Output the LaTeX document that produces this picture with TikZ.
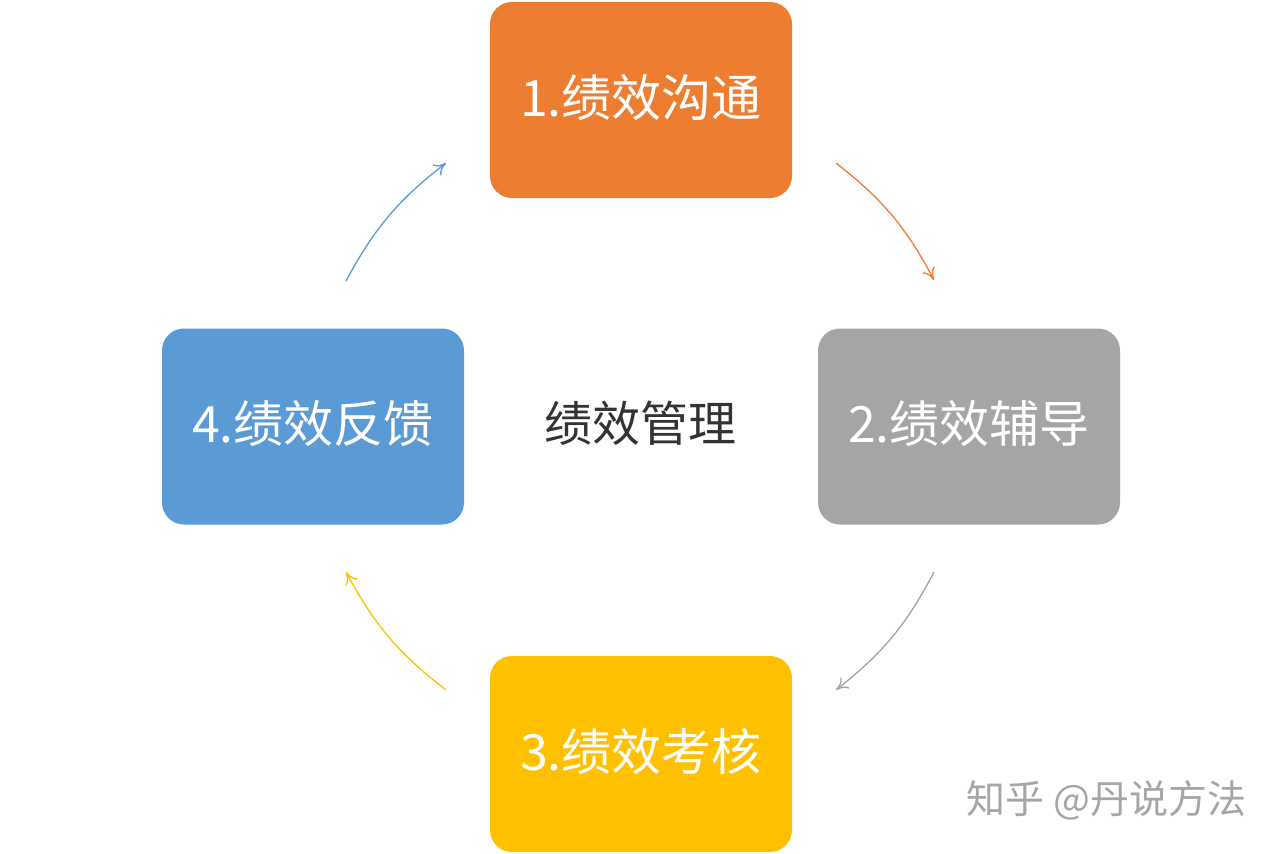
\documentclass[tikz,border=0pt]{standalone}
\usepackage{fontspec}
\newfontfamily\cjk{Noto Sans CJK SC}
\usetikzlibrary{arrows.meta}
\definecolor{c1}{HTML}{ED7D31}
\definecolor{c2}{HTML}{A5A5A5}
\definecolor{c3}{HTML}{FFC000}
\definecolor{c4}{HTML}{5B9BD5}
\tikzset{
  box/.style={rounded corners=22pt,minimum width=302pt,minimum height=196pt,inner sep=0pt,text=white,font=\cjk\fontsize{50}{54}\selectfont},
  arr/.style={line width=1.3pt,-{To[length=12pt,width=14pt]}},
}
\newcommand{\lift}[1]{\raisebox{-16pt}[0pt][0pt]{#1}}
\begin{document}
\begin{tikzpicture}[x=1pt,y=-1pt]
\useasboundingbox[fill=white] (0,0) rectangle (1280,854);
\node[box,fill=c1] (b1) at (641,100) {\lift{1.绩效沟通}};
\node[box,fill=c2] (b2) at (969,426.5) {\lift{2.绩效辅导}};
\node[box,fill=c3] (b3) at (641,754) {\lift{3.绩效考核}};
\node[box,fill=c4] (b4) at (313,426.5) {\lift{4.绩效反馈}};
\node[font=\cjk\fontsize{48}{52}\selectfont,text=black!80] (c) at (640,423) {绩效管理};
\coordinate (a1s) at (836,163); \coordinate (a1e) at (934,280);
\coordinate (a2s) at (934,572); \coordinate (a2e) at (836,690);
\coordinate (a3s) at (446,690); \coordinate (a3e) at (346,572);
\coordinate (a4s) at (346,281); \coordinate (a4e) at (446,163);
\draw[arr,c1] (a1s) to[bend left=12] (a1e);
\draw[arr,c2] (a2s) to[bend left=12] (a2e);
\draw[arr,c3] (a3s) to[bend left=12] (a3e);
\draw[arr,c4] (a4s) to[bend left=12] (a4e);
\node[font=\cjk\fontsize{39}{42}\selectfont,text=black!35,anchor=east] (w) at (1250,800) {知乎 @丹说方法};
\end{tikzpicture}
\end{document}
